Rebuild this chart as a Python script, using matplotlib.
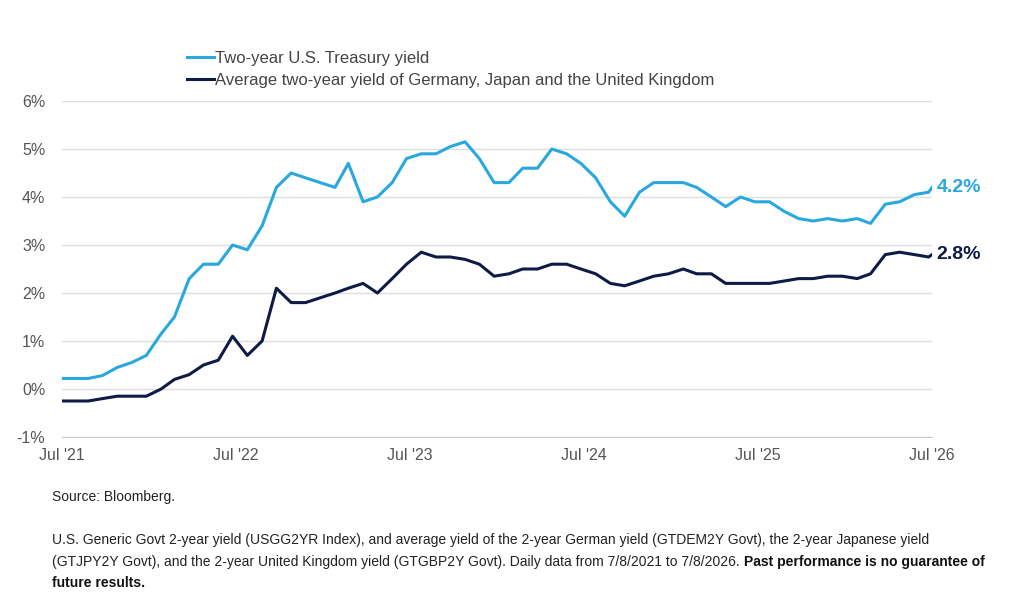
import matplotlib
matplotlib.use("Agg")
import matplotlib.pyplot as plt
import pandas as pd

dates = pd.date_range("2021-07-08", "2026-07-08", freq="MS").tolist()
dates = [pd.Timestamp("2021-07-08")] + dates[1:] + [pd.Timestamp("2026-07-08")]
us = [0.22,0.22,0.28,0.45,0.55,0.70,1.15,1.5,2.3,2.6,2.6,3.0,2.9,3.4,4.2,4.5,4.4,4.3,
      4.2,4.7,3.9,4.0,4.3,4.8,4.9,4.9,5.05,5.15,4.8,4.3,4.3,4.6,4.6,5.0,4.9,4.7,
      4.4,3.9,3.6,4.1,4.3,4.3,4.3,4.2,4.0,3.8,4.0,3.9,3.9,3.7,3.55,3.5,3.55,3.5,
      3.55,3.45,3.85,3.9,4.05,4.1,4.2]
avg = [-0.25,-0.25,-0.2,-0.15,-0.15,-0.15,0.0,0.2,0.3,0.5,0.6,1.1,0.7,1.0,2.1,1.8,1.8,1.9,
       2.0,2.1,2.2,2.0,2.3,2.6,2.85,2.75,2.75,2.7,2.6,2.35,2.4,2.5,2.5,2.6,2.6,2.5,
       2.4,2.2,2.15,2.25,2.35,2.4,2.5,2.4,2.4,2.2,2.2,2.2,2.2,2.25,2.3,2.3,2.35,2.35,
       2.3,2.4,2.8,2.85,2.8,2.75,2.8]
n = min(len(dates), len(us), len(avg))
dates, us, avg = dates[:n], us[:n], avg[:n]
us_label = "Two-year U.S. Treasury yield"
avg_label = "Average two-year yield of Germany, Japan and the United Kingdom"
xticks = ["2021-07-08","2022-07-08","2023-07-08","2024-07-08","2025-07-08","2026-07-08"]
xlabels = ["Jul '21","Jul '22","Jul '23","Jul '24","Jul '25","Jul '26"]
yticks = [-1,0,1,2,3,4,5,6]

c1, c2 = "#29a8e0", "#0d1b46"
plt.rcParams['font.family'] = ['Liberation Sans', 'DejaVu Sans']
fig = plt.figure(figsize=(10.24,5.93), dpi=100)
ax = fig.add_axes([62/1024, 1-437/593, 870/1024, 336/593])
ax.plot(dates, us, color=c1, lw=2.2, label=us_label)
ax.plot(dates, avg, color=c2, lw=2.2, label=avg_label)
ax.set_xlim(pd.Timestamp(xticks[0]), pd.Timestamp(xticks[-1]))
ax.set_ylim(-1, 6)
ax.set_yticks(yticks)
ax.set_yticklabels([f"{v}%" for v in yticks], color="#555555", fontsize=11.5)
ax.set_xticks([pd.Timestamp(t) for t in xticks])
ax.set_xticklabels(xlabels, color="#555555", fontsize=11.5)
ax.yaxis.grid(True, color="#dddddd", lw=1)
for s in ["top","right","left"]:
    ax.spines[s].set_visible(False)
ax.spines["bottom"].set_color("#cccccc")
ax.tick_params(length=0, pad=8)
ax.tick_params(axis='y', pad=12)
ax.text(1.005, us[-1], f"{us[-1]}%", transform=ax.get_yaxis_transform(), color=c1,
        fontsize=14, fontweight="bold", va="center")
ax.text(1.005, avg[-1], f"{avg[-1]}%", transform=ax.get_yaxis_transform(), color=c2,
        fontsize=14, fontweight="bold", va="center")
fig.legend(loc="upper left", bbox_to_anchor=(172/1024, 1-36/593), frameon=False,
           fontsize=12, handlelength=1.6, handletextpad=0.1, labelspacing=0.4,
           labelcolor="#444444")
fig.text(52/1024, 1-497/593, "Source: Bloomberg.", fontsize=10, color="#222222", va="center")
fig.text(52/1024, 1-540/593,
         "U.S. Generic Govt 2-year yield (USGG2YR Index), and average yield of the 2-year German yield (GTDEM2Y Govt), the 2-year Japanese yield",
         fontsize=10, color="#222222", va="center")
t2 = fig.text(52/1024, 1-562/593,
         "(GTJPY2Y Govt), and the 2-year United Kingdom yield (GTGBP2Y Govt). Daily data from 7/8/2021 to 7/8/2026. ",
         fontsize=10, color="#222222", va="center")
fig.canvas.draw()
bb = t2.get_window_extent(renderer=fig.canvas.get_renderer())
fig.text(bb.x1/fig.bbox.width, 1-562/593, "Past performance is no guarantee of",
         fontsize=10, fontweight="bold", color="#111111", va="center")
fig.text(52/1024, 1-583/593, "future results.", fontsize=10, fontweight="bold", color="#111111", va="center")
fig.savefig("out.png", dpi=100, facecolor="white")
